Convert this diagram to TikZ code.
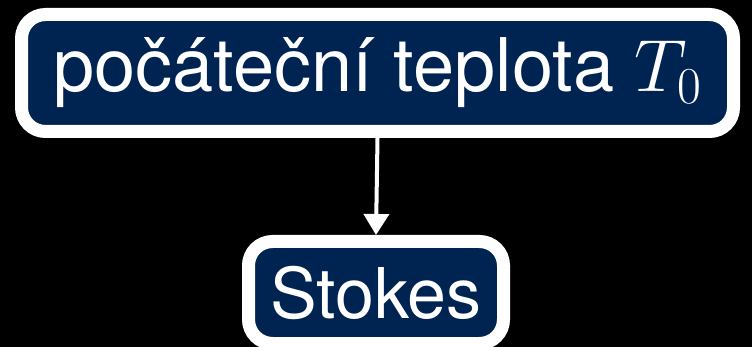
\RequirePackage{fix-cm}
\documentclass[tikz,border=0pt]{standalone}
\usepackage{fontspec}
\setmainfont{TeX Gyre Heros}
\usetikzlibrary{arrows.meta}
\definecolor{navy}{RGB}{0,36,82}
\tikzset{
  box/.style={draw=white, fill=navy, line width=13pt, rounded corners=24pt,
    text=white, inner sep=0pt, align=center},
  conn/.style={draw=white, line width=4pt, -{Triangle[width=25pt,length=21pt]}}
}
\begin{document}
\begin{tikzpicture}[x=1pt,y=1pt]
\fill[black] (0,0) rectangle (752,-347);
\useasboundingbox (0,0) rectangle (752,-347);
\node[box, minimum width=712pt, minimum height=117pt, font=\fontsize{74}{80}\selectfont] (top) at (377.5,-73) {počáteční teplota $T_0$};
\node[box, minimum width=255pt, minimum height=102pt, font=\fontsize{70}{76}\selectfont] (stokes) at (376,-292.5) {Stokes};
\draw[conn] (top.south) -- (stokes.north);
\end{tikzpicture}
\end{document}
